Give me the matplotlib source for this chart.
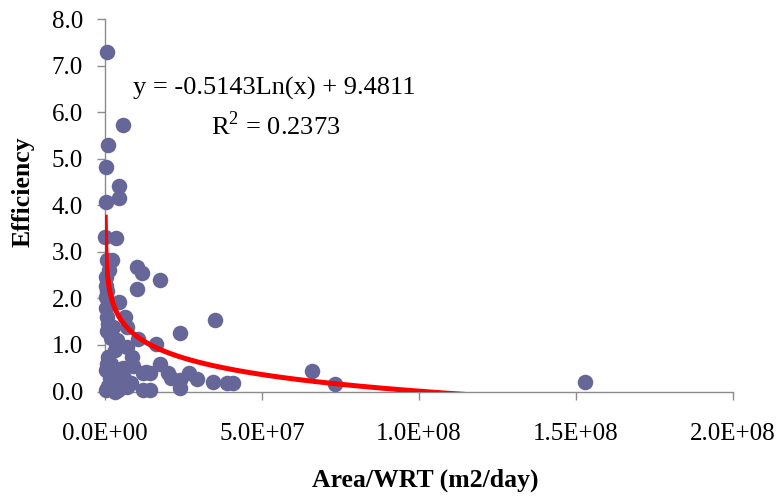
import numpy as np
import matplotlib
matplotlib.use("Agg")
import matplotlib.pyplot as plt

# data: x in millions of m2/day, efficiency
x_mil = [0.5, 5.8, 0.8, 0.2, 4.5, 4.5, 0.2, 0.063, 3.5, 0.6, 2.1, 1.4, 10.1, 11.7,
         17.5, 10.3, 0.3, 0.2, 4.5, 0.2, 0.6, 6.4, 35.0, 2.6, 7.0, 23.9, 3.7,
         10.6, 16.4, 3.2, 7.0, 1.1, 8.5, 0.2, 4.8, 17.5, 12.2, 14.3, 20.2, 23.9,
         26.6, 29.2, 34.5, 38.7, 40.8, 0.2, 2.6, 7.0, 12.2, 14.3, 23.9, 3.2,
         21.0, 65.8, 73.2, 153.0, 5.8, 13.2, 8.4, 4.8, 4.2, 1.1, 0.4, 0.6, 1.0,
         1.0, 1.5, 2.0, 0.5, 2.0, 0.5, 3.5, 6.0, 9.0, 1.5]
eff = [7.30, 5.73, 5.30, 4.82, 4.42, 4.15, 4.07, 3.32, 3.29, 2.82, 2.82, 2.61,
       2.67, 2.54, 2.39, 2.21, 2.26, 2.03, 1.93, 1.79, 1.60, 1.60, 1.53, 1.39,
       1.39, 1.26, 1.10, 1.12, 1.03, 0.89, 0.96, 0.75, 0.75, 0.46, 0.46, 0.60,
       0.39, 0.39, 0.39, 0.25, 0.39, 0.26, 0.21, 0.18, 0.18, 0.03, 0.18, 0.10,
       0.03, 0.03, 0.07, 0.00, 0.28, 0.43, 0.16, 0.21, 0.50, 0.42, 0.18, 0.18,
       0.03, 0.11, 2.45, 2.15, 1.95, 1.45, 1.25, 1.15, 1.30, 0.60, 0.60, 0.30,
       0.30, 0.55, 0.30]
coef_a = -0.5143
coef_b = 9.4811
eq_text = "y = -0.5143Ln(x) + 9.4811"
r2_text = "R$^2$ = 0.2373"
x_ticks = [0, 5e7, 1e8, 1.5e8, 2e8]
x_tick_labels = ["0.0E+00", "5.0E+07", "1.0E+08", "1.5E+08", "2.0E+08"]
y_ticks = [0, 1, 2, 3, 4, 5, 6, 7, 8]
y_tick_labels = ["0.0", "1.0", "2.0", "3.0", "4.0", "5.0", "6.0", "7.0", "8.0"]

plt.rcParams['font.family'] = ['Liberation Serif', 'DejaVu Serif']
plt.rcParams['mathtext.fontset'] = 'custom'
plt.rcParams['mathtext.rm'] = 'Liberation Serif'

x = np.array(x_mil) * 1e6
y = np.array(eff)

fig = plt.figure(figsize=(7.79, 5.0), dpi=100)
ax = fig.add_axes([105/779, 1 - 391.5/500, (733 - 105)/779, (391.5 - 19)/500])

ax.scatter(x, y, s=125, color='#666699', zorder=3, linewidths=0, clip_on=False)
xs = np.linspace(x.min(), x.max(), 4000)
ax.plot(xs, coef_a * np.log(xs) + coef_b, color='#ff0000', lw=3.6, zorder=4,
        solid_capstyle='butt')

ax.set_xlim(0, 2e8)
ax.set_ylim(0, 8)
ax.set_xticks(x_ticks)
ax.set_xticklabels(x_tick_labels)
ax.set_yticks(y_ticks)
ax.set_yticklabels(y_tick_labels)
for s in ['top', 'right']:
    ax.spines[s].set_visible(False)
for s in ['left', 'bottom']:
    ax.spines[s].set_color('#8c8c8c')
    ax.spines[s].set_linewidth(1.0)
ax.tick_params(axis='both', direction='out', length=6, color='#8c8c8c',
               labelsize=18, width=1.0)
ax.tick_params(axis='x', pad=17)
ax.tick_params(axis='y', pad=10)

fig.text(425/779, 1 - 480/500, "Area/WRT (m2/day)", fontsize=18.5,
         fontweight='bold', ha='center', va='center')
fig.text(23/779, 1 - 192/500, "Efficiency", fontsize=18.5, fontweight='bold',
         ha='center', va='center', rotation=90)

fig.text(274/779, 1 - 88/500, eq_text, fontsize=19, ha='center', va='center')
fig.text(276/779, 1 - 126/500, r2_text, fontsize=19, ha='center', va='center')

fig.savefig("out.png", dpi=100)
